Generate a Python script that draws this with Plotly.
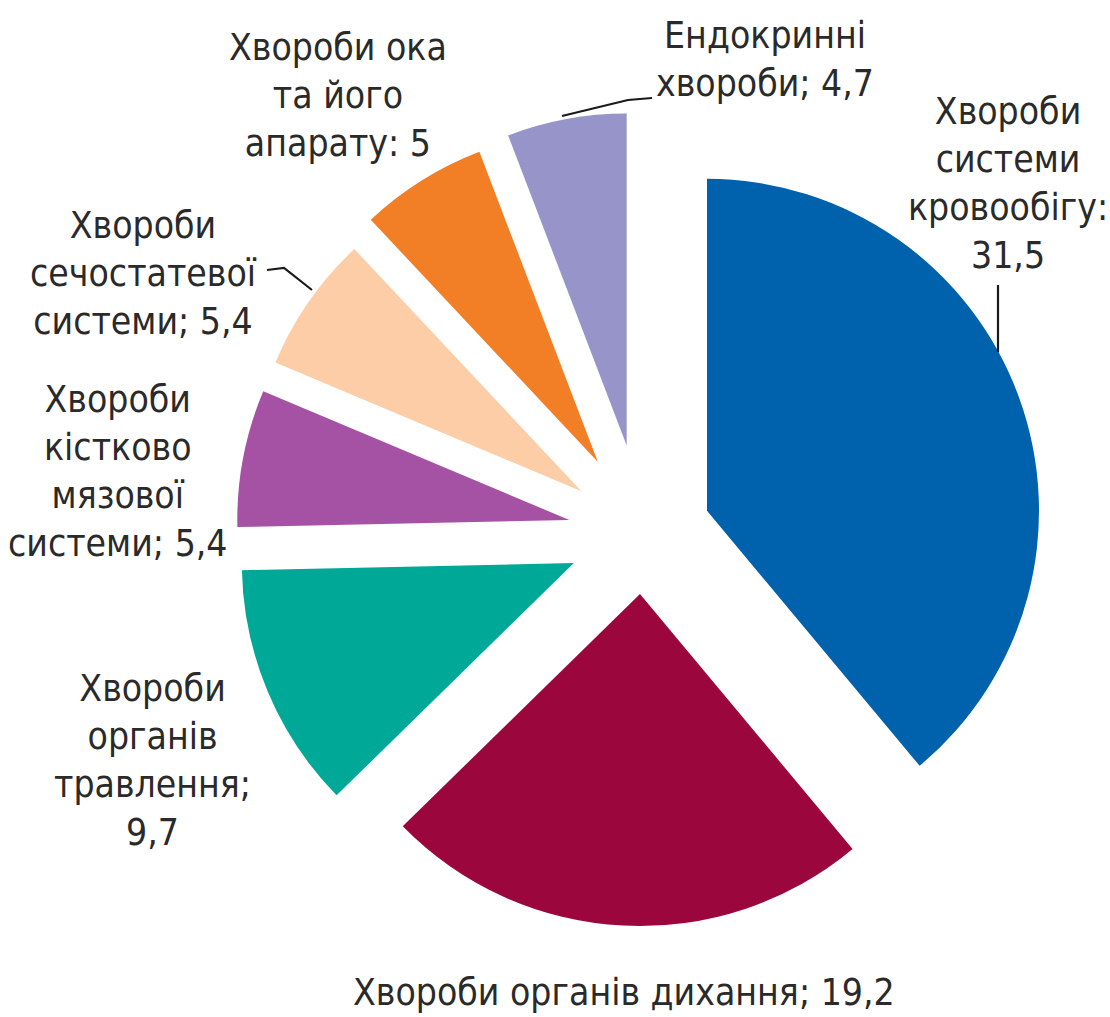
import plotly.graph_objects as go

# ---- data ----
categories = [
    "Хвороби системи кровообігу",
    "Хвороби органів дихання",
    "Хвороби органів травлення",
    "Хвороби кістково мязової системи",
    "Хвороби сечостатевої системи",
    "Хвороби ока та його апарату",
    "Ендокринні хвороби",
]
values = [31.5, 19.2, 9.7, 5.4, 5.4, 5.0, 4.7]
label_texts = [
    "Хвороби<br>системи<br>кровообігу:<br>31,5",
    "Хвороби органів дихання; 19,2",
    "Хвороби<br>органів<br>травлення;<br>9,7",
    "Хвороби<br>кістково<br>мязової<br>системи; 5,4",
    "Хвороби<br>сечостатевої<br>системи; 5,4",
    "Хвороби ока<br>та його<br>апарату: 5",
    "Ендокринні<br>хвороби; 4,7",
]

# ---- style ----
colors = ["#0061AC", "#9B073D", "#00A898", "#A552A4", "#FCCDA6", "#F27E26", "#9794C9"]
pulls = [0.205, 0.181, 0.226, 0.226, 0.226, 0.256, 0.271]

W, H = 1110, 1017
CX, CY = 643, 534
R = 332
half = R * (1 + max(pulls))

def px(x):
    return x / W

def py(y):
    return 1 - y / H

fig = go.Figure(go.Pie(
    labels=categories,
    values=values,
    sort=False,
    direction="clockwise",
    rotation=0,
    pull=pulls,
    marker=dict(colors=colors, line=dict(width=0)),
    textinfo="none",
    hoverinfo="label+value",
    domain=dict(x=[(CX - half) / W, (CX + half) / W],
                y=[(H - CY - half) / H, (H - CY + half) / H]),
    showlegend=False,
))

FONT = dict(family="Liberation Sans Narrow, DejaVu Sans Condensed, Roboto Condensed, Roboto, sans-serif",
            size=37, color="#2a2a2a")
PITCH = 48
# label layout: (center x, first-line center y)
label_pos = [(1008, 112), (624, 992), (152, 688), (118, 400), (143, 225), (338, 47), (765, 36)]

for txt, (lx, ly) in zip(label_texts, label_pos):
    n = txt.count("<br>") + 1
    cy = ly + (n - 1) * PITCH / 2
    fig.add_annotation(text=txt, x=px(lx), y=py(cy), xref="paper", yref="paper",
                       xanchor="center", yanchor="middle", showarrow=False,
                       font=FONT, align="center")

leaders = [
    [(998, 285), (998, 352)],
    [(267, 270), (284, 268), (312, 290)],
    [(562, 116), (628, 100), (652, 98)],
]
for pts in leaders:
    path = "M " + " L ".join(f"{px(x)},{py(y)}" for x, y in pts)
    fig.add_shape(type="path", path=path, xref="paper", yref="paper",
                  line=dict(color="#1a1a1a", width=2.2))

fig.update_layout(width=W, height=H, margin=dict(l=0, r=0, t=0, b=0),
                  paper_bgcolor="white", plot_bgcolor="white")
fig.write_html("out.html")
